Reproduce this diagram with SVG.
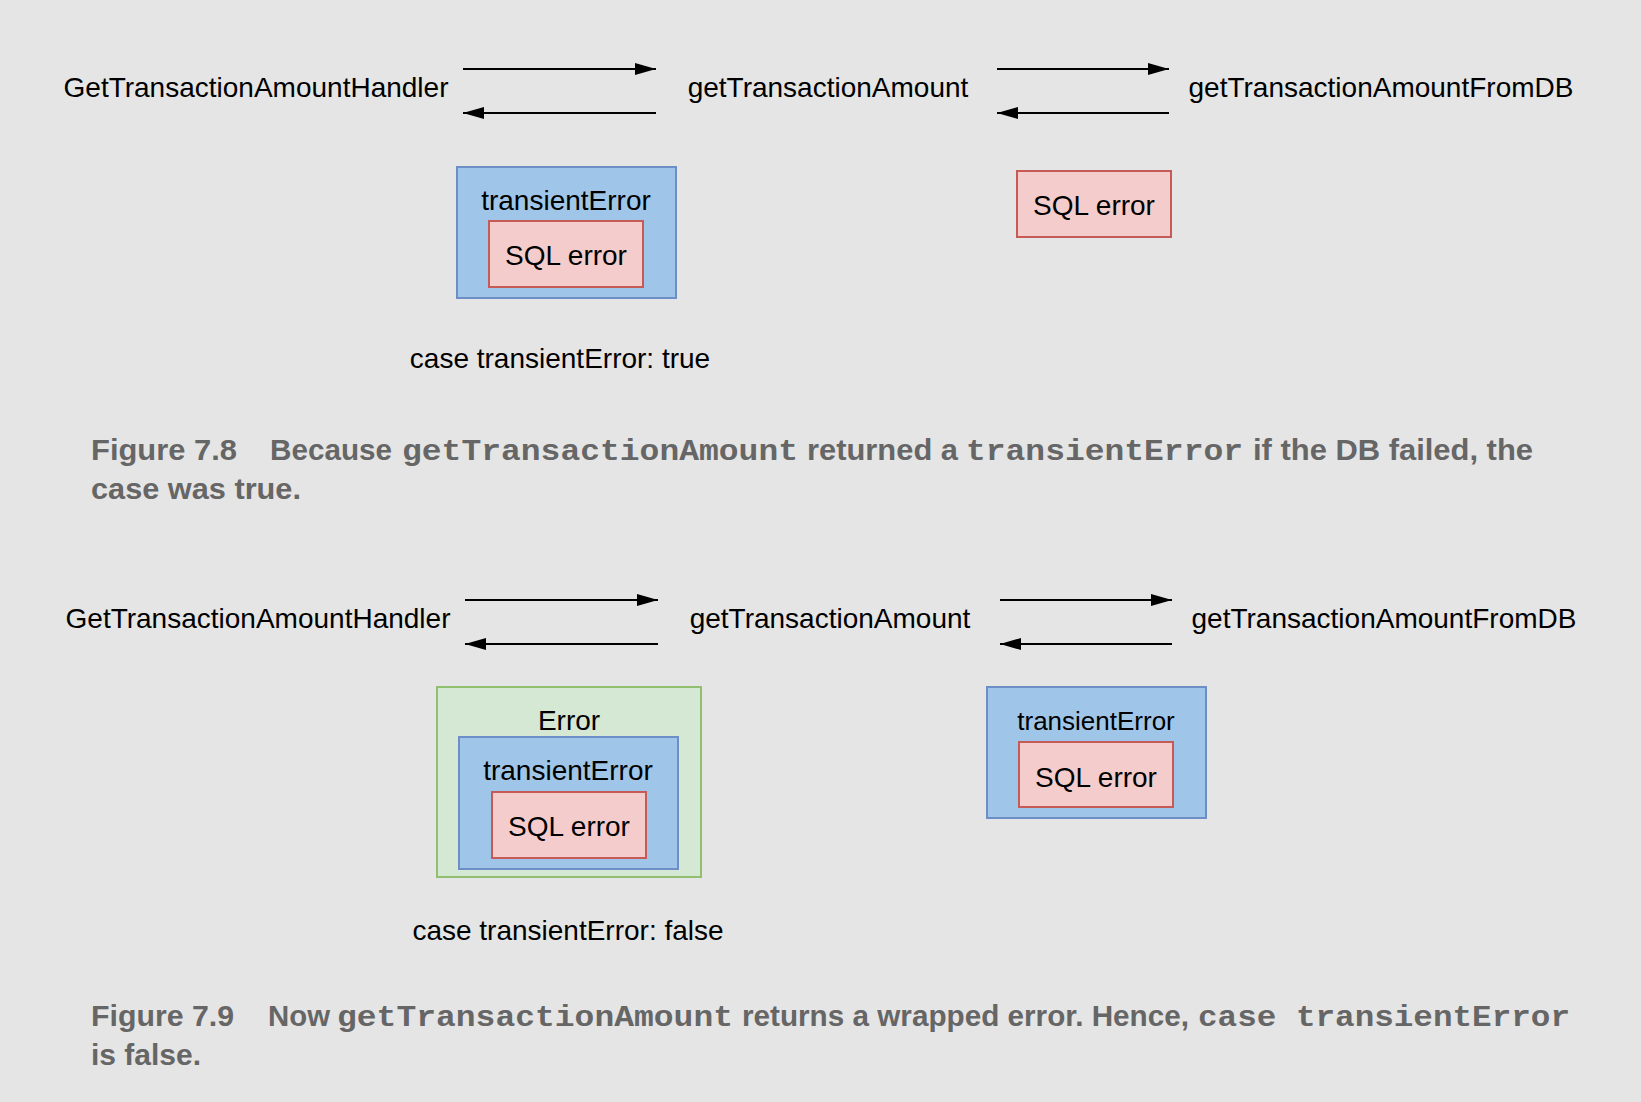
<svg xmlns="http://www.w3.org/2000/svg" width="1641" height="1102" viewBox="0 0 1641 1102">
<defs>
<marker id="ah" viewBox="0 0 21 12" refX="21" refY="6" markerWidth="21" markerHeight="12" markerUnits="userSpaceOnUse" orient="auto">
<path d="M0,0 L21,6 L0,12 z" fill="#000"/>
</marker>
</defs>
<style>
.lbl{font-family:"Liberation Sans",Arial,sans-serif;font-size:28px;fill:#000;text-anchor:middle}
.blue{fill:#9fc5e8;stroke:#6d8ec6;stroke-width:2}
.pink{fill:#f4cccc;stroke:#c55a56;stroke-width:2}
.green{fill:#d5e8d4;stroke:#8fbf6f;stroke-width:2}
.arr{stroke:#000;stroke-width:2;fill:none;marker-end:url(#ah)}
.cap{font-family:"Liberation Sans Narrow","Liberation Sans",Arial,sans-serif;font-weight:bold;font-size:29px;fill:#666}
.mono{font-family:"Liberation Mono","Courier New",monospace;font-weight:bold;font-size:30px;fill:#666}
</style>
<rect width="1641" height="1102" fill="#e5e5e5"/>

<g id="connectors">
<line class="arr" x1="463" y1="69" x2="656" y2="69"/>
<line class="arr" x1="656" y1="113" x2="463" y2="113"/>
<line class="arr" x1="997" y1="69" x2="1169" y2="69"/>
<line class="arr" x1="1169" y1="113" x2="997" y2="113"/>
<line class="arr" x1="465" y1="600" x2="658" y2="600"/>
<line class="arr" x1="658" y1="644" x2="465" y2="644"/>
<line class="arr" x1="1000" y1="600" x2="1172" y2="600"/>
<line class="arr" x1="1172" y1="644" x2="1000" y2="644"/>
</g>

<g id="fig78-handler"><text class="lbl" x="256" y="97">GetTransactionAmountHandler</text></g>
<g id="fig78-get"><text class="lbl" x="828" y="97">getTransactionAmount</text></g>
<g id="fig78-db"><text class="lbl" x="1381" y="97">getTransactionAmountFromDB</text></g>

<g id="fig78-transient">
<rect class="blue" x="457" y="167" width="219" height="131"/>
<text class="lbl" x="566" y="210">transientError</text>
<rect class="pink" x="489" y="221" width="154" height="66"/>
<text class="lbl" x="566" y="265">SQL error</text>
</g>
<g id="fig78-sql">
<rect class="pink" x="1017" y="171" width="154" height="66"/>
<text class="lbl" x="1094" y="215">SQL error</text>
</g>
<g id="fig78-case"><text class="lbl" x="560" y="368">case transientError: true</text></g>

<g id="fig78-caption">
<text class="cap" y="460"><tspan x="91" textLength="146" lengthAdjust="spacingAndGlyphs">Figure 7.8</tspan><tspan x="270" textLength="122" lengthAdjust="spacingAndGlyphs">Because</tspan></text>
<text class="mono" x="402" y="460" textLength="396" lengthAdjust="spacingAndGlyphs">getTransactionAmount</text>
<text class="cap" x="807" y="460" textLength="151" lengthAdjust="spacingAndGlyphs">returned a</text>
<text class="mono" x="966" y="460" textLength="277" lengthAdjust="spacingAndGlyphs">transientError</text>
<text class="cap" x="1253" y="460" textLength="280" lengthAdjust="spacingAndGlyphs">if the DB failed, the</text>
<text class="cap" x="91" y="499" textLength="210" lengthAdjust="spacingAndGlyphs">case was true.</text>
</g>

<g id="fig79-handler"><text class="lbl" x="258" y="628">GetTransactionAmountHandler</text></g>
<g id="fig79-get"><text class="lbl" x="830" y="628">getTransactionAmount</text></g>
<g id="fig79-db"><text class="lbl" x="1384" y="628">getTransactionAmountFromDB</text></g>

<g id="fig79-error">
<rect class="green" x="437" y="687" width="264" height="190"/>
<text class="lbl" x="569" y="730">Error</text>
<rect class="blue" x="459" y="737" width="219" height="132"/>
<text class="lbl" x="568" y="780">transientError</text>
<rect class="pink" x="492" y="792" width="154" height="66"/>
<text class="lbl" x="569" y="836">SQL error</text>
</g>
<g id="fig79-transient">
<rect class="blue" x="987" y="687" width="219" height="131"/>
<text class="lbl" x="1096" y="730" style="font-size:26px">transientError</text>
<rect class="pink" x="1019" y="742" width="154" height="65"/>
<text class="lbl" x="1096" y="787">SQL error</text>
</g>
<g id="fig79-case"><text class="lbl" x="568" y="940">case transientError: false</text></g>

<g id="fig79-caption">
<text class="cap" y="1026"><tspan x="91" textLength="143" lengthAdjust="spacingAndGlyphs">Figure 7.9</tspan><tspan x="268" textLength="62" lengthAdjust="spacingAndGlyphs">Now</tspan></text>
<text class="mono" x="337" y="1026" textLength="396" lengthAdjust="spacingAndGlyphs">getTransactionAmount</text>
<text class="cap" x="742" y="1026" textLength="447" lengthAdjust="spacingAndGlyphs">returns a wrapped error. Hence,</text>
<text class="mono" x="1198" y="1026" textLength="372" lengthAdjust="spacingAndGlyphs">case transientError</text>
<text class="cap" x="91" y="1065" textLength="110" lengthAdjust="spacingAndGlyphs">is false.</text>
</g>
</svg>
